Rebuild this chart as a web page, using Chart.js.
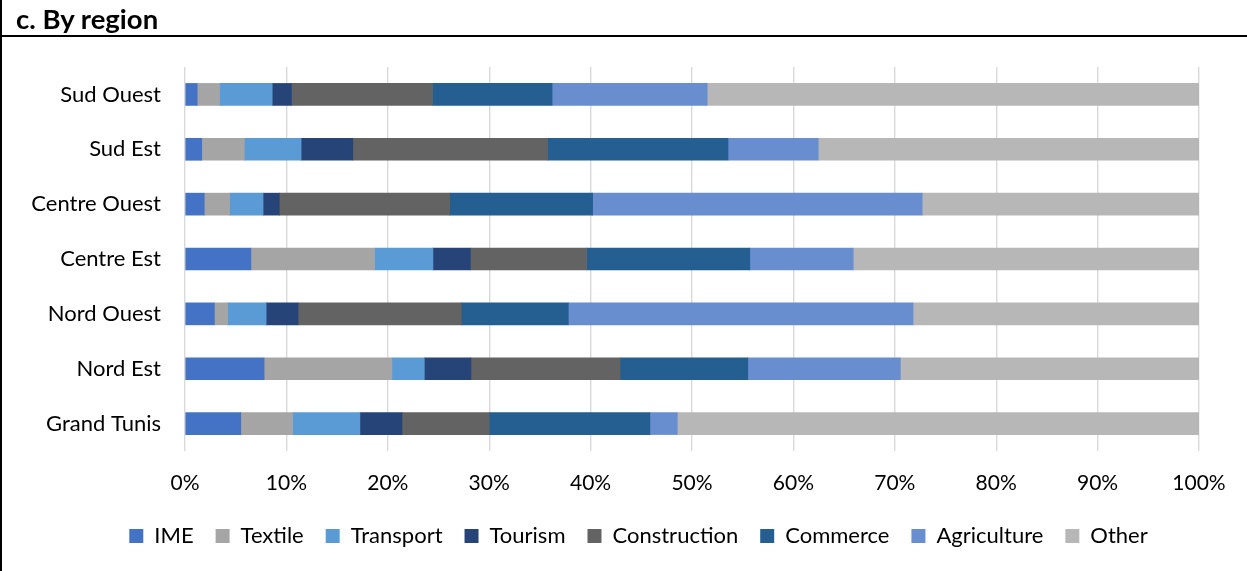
<!DOCTYPE html>
<html>
<head>
<meta charset="utf-8">
<script src="https://cdn.jsdelivr.net/npm/chart.js@4/dist/chart.umd.min.js"></script>
<style>
  html, body { margin: 0; padding: 0; background: #fff; }
  #wrap { position: relative; width: 1247px; height: 571px; overflow: hidden; }
  #c { position: absolute; left: 0; top: 0; }
  #header { position: absolute; left: 0; top: 0; width: 1247px; height: 35px; border-bottom: 2px solid #000; }
  #title { position: absolute; left: 16px; top: 2px; font-family: Lato, sans-serif; font-weight: bold; font-size: 27.5px; line-height: 1.2; color: #000; white-space: nowrap; }
  #leftline { position: absolute; left: 0; top: 0; width: 2px; height: 571px; background: #000; }
</style>
</head>
<body>
<div id="wrap">
  <canvas id="c" width="1247" height="571"></canvas>
  <div id="header"><div id="title">c. By region</div></div>
  <div id="leftline"></div>
</div>
<script>
const regions = ["Sud Ouest", "Sud Est", "Centre Ouest", "Centre Est", "Nord Ouest", "Nord Est", "Grand Tunis"];
const seriesNames = ["IME", "Textile", "Transport", "Tourism", "Construction", "Commerce", "Agriculture", "Other"];
const ime          = [1.2, 1.65, 1.9, 6.5, 2.9, 7.8, 5.5];
const textile      = [2.2, 4.2, 2.5, 12.2, 1.3, 12.6, 5.1];
const transport    = [5.2, 5.6, 3.3, 5.75, 3.8, 3.2, 6.65];
const tourism      = [1.9, 5.1, 1.6, 3.7, 3.15, 4.6, 4.15];
const construction = [13.9, 19.2, 16.8, 11.45, 16.1, 14.7, 8.6];
const commerce     = [11.8, 17.8, 14.1, 16.1, 10.55, 12.6, 15.85];
const agriculture  = [15.3, 8.9, 32.5, 10.2, 34.0, 15.05, 2.7];
const other        = [48.5, 37.55, 27.3, 34.1, 28.2, 29.45, 51.45];
const tickValues   = [0, 10, 20, 30, 40, 50, 60, 70, 80, 90, 100];

const seriesData = [ime, textile, transport, tourism, construction, commerce, agriculture, other];
const colors = ["#4472C4", "#A5A5A5", "#5B9BD5", "#264478", "#636363", "#255E91", "#698ED0", "#B7B7B7"];

const FONT = "Lato, sans-serif";

// shift the legend horizontally so it is centred like the original
const legendShift = {
  id: "legendShift",
  afterLayout(chart) {
    if (chart.legend) { chart.legend.left += 36; chart.legend.right += 36; }
  }
};

new Chart(document.getElementById("c"), {
  type: "bar",
  data: {
    labels: regions,
    datasets: seriesNames.map((n, i) => ({
      label: n,
      data: seriesData[i],
      backgroundColor: colors[i],
      borderWidth: 0,
      barThickness: 22
    }))
  },
  plugins: [legendShift],
  options: {
    indexAxis: "y",
    responsive: false,
    animation: false,
    layout: { padding: { left: 6, right: 48, top: 67, bottom: 14 } },
    plugins: {
      tooltip: { enabled: false },
      legend: {
        position: "bottom",
        labels: {
          boxWidth: 14,
          boxHeight: 14,
          padding: 22,
          color: "#000",
          font: { family: FONT, size: 22 }
        }
      }
    },
    scales: {
      x: {
        stacked: true,
        min: 0,
        max: 100,
        afterBuildTicks: (s) => { s.ticks = tickValues.map(v => ({ value: v })); },
        afterFit: (s) => { s.height = 52; },
        grid: { color: "#D9D9D9", lineWidth: 1.4, drawTicks: false },
        border: { display: false },
        ticks: {
          padding: 20,
          color: "#000",
          font: { family: FONT, size: 21 },
          callback: (v) => v + "%"
        }
      },
      y: {
        stacked: true,
        afterFit: (s) => { s.width = 179; },
        grid: { display: false, drawTicks: false },
        border: { display: false },
        ticks: {
          padding: 24,
          color: "#000",
          font: { family: FONT, size: 22 }
        }
      }
    }
  }
});
</script>
</body>
</html>
